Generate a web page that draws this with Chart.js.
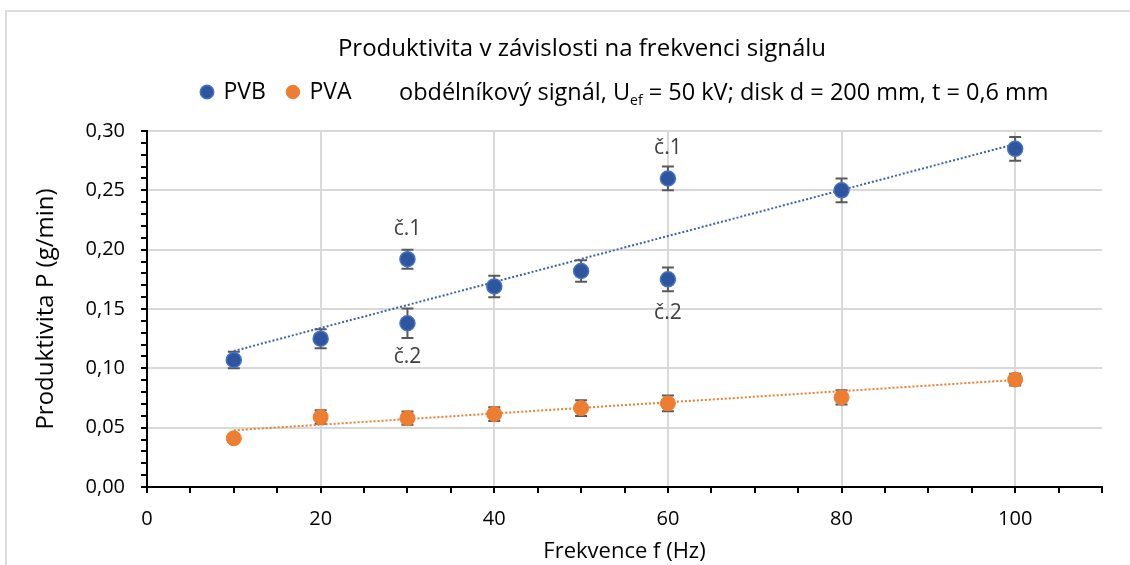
<!DOCTYPE html>
<html>
<head>
<meta charset="utf-8">
<script src="https://cdn.jsdelivr.net/npm/chart.js@4.4.0/dist/chart.umd.min.js"></script>
<style>
  html, body { margin: 0; padding: 0; background: #fff; overflow: hidden; }
  #frame { position: absolute; left: 5px; top: 10px; width: 1200px; height: 700px; border: 2px solid #dcdcdc; }
  #myChart { position: absolute; left: 0; top: 0; }
</style>
</head>
<body>
<div id="frame"></div>
<canvas id="myChart" width="1130" height="565"></canvas>
<script>
// data
var freqPVB = [10, 20, 30, 30, 40, 50, 60, 60, 80, 100];
var prodPVB = [0.107, 0.125, 0.192, 0.138, 0.169, 0.182, 0.260, 0.175, 0.250, 0.285];
var errPVB  = [0.007, 0.008, 0.008, 0.0125, 0.009, 0.009, 0.010, 0.010, 0.010, 0.010];
var notesPVB = ['', '', 'č.1', 'č.2', '', '', 'č.1', 'č.2', '', ''];

var freqPVA = [10, 20, 30, 40, 50, 60, 80, 100];
var prodPVA = [0.041, 0.059, 0.058, 0.0615, 0.0665, 0.0705, 0.0755, 0.0905];
var errPVA  = [0.003, 0.0057, 0.0056, 0.0058, 0.0067, 0.0067, 0.006, 0.005];

// linear trend lines (end points)
var trendX = [10, 100];
var trendPVB = [0.1146, 0.289];
var trendPVA = [0.0478, 0.0902];

var FONT = 'Open Sans';
var blue = '#2f559f';
var orange = '#ed7d31';
var LEGEND_SIZE = 23, LEGEND_PAD = 22;

function pts(xs, ys) {
    return xs.map(function (x, i) { return { x: x, y: ys[i] }; });
}

// error bars, drawn below the markers
var errorBars = {
    id: 'errorBars',
    beforeDatasetsDraw: function (chart) {
        var ctx = chart.ctx, xs = chart.scales.x, ys = chart.scales.y;
        var sets = [[freqPVB, prodPVB, errPVB], [freqPVA, prodPVA, errPVA]];
        ctx.save();
        ctx.strokeStyle = '#595959';
        ctx.lineWidth = 2;
        sets.forEach(function (s) {
            s[0].forEach(function (f, i) {
                var px = xs.getPixelForValue(f);
                var top = ys.getPixelForValue(s[1][i] + s[2][i]);
                var bot = ys.getPixelForValue(s[1][i] - s[2][i]);
                ctx.beginPath();
                ctx.moveTo(px, top); ctx.lineTo(px, bot);
                ctx.moveTo(px - 6, top); ctx.lineTo(px + 6, top);
                ctx.moveTo(px - 6, bot); ctx.lineTo(px + 6, bot);
                ctx.stroke();
            });
        });
        ctx.restore();
    }
};

// č.1 / č.2 labels and the extra legend text
var notes = {
    id: 'notes',
    afterLayout: function (chart) {
        // put the legend row where the original has it
        var lg = chart.legend;
        var h = lg.bottom - lg.top;
        lg.left = 202 - LEGEND_PAD;
        lg.top = 92 - LEGEND_PAD - LEGEND_SIZE / 2;
        lg.bottom = lg.top + h;
        // title is centred a bit right of the canvas middle
        chart.titleBlock.left += 15;
        chart.titleBlock.right += 15;
    },
    afterDraw: function (chart) {
        var ctx = chart.ctx, xs = chart.scales.x, ys = chart.scales.y;
        ctx.save();
        ctx.fillStyle = '#404040';
        ctx.font = '21px "' + FONT + '"';
        ctx.textAlign = 'center';
        ctx.textBaseline = 'middle';
        notesPVB.forEach(function (t, i) {
            if (!t) return;
            var px = xs.getPixelForValue(freqPVB[i]);
            var py = ys.getPixelForValue(prodPVB[i]);
            var dy = t === 'č.1' ? -30 : 34;
            ctx.fillText(t, px, py + dy);
        });

        // "obdélníkový signál, Uef = 50 kV; disk d = 200 mm, t = 0,6 mm"
        ctx.fillStyle = '#000';
        ctx.textAlign = 'left';
        ctx.textBaseline = 'alphabetic';
        var x = 399, y = 100;
        var parts = [['obdélníkový signál, U', 23.5, 0], ['ef', 14, 5], [' = 50 kV; disk d = 200 mm, t = 0,6 mm', 23.5, 0]];
        parts.forEach(function (p) {
            ctx.font = p[1] + 'px "' + FONT + '"';
            ctx.fillText(p[0], x, y + p[2]);
            x += ctx.measureText(p[0]).width;
        });
        ctx.restore();
    }
};

var ctx = document.getElementById('myChart');
var myChart = new Chart(ctx, {
    type: 'scatter',
    data: {
        datasets: [
            {
                label: 'PVB',
                data: pts(freqPVB, prodPVB),
                backgroundColor: blue,
                borderColor: '#4472c4',
                borderWidth: 1.5,
                pointRadius: 7.5,
                pointHoverRadius: 7.5,
                order: 1
            },
            {
                label: 'PVA',
                data: pts(freqPVA, prodPVA),
                backgroundColor: orange,
                borderColor: orange,
                borderWidth: 1,
                pointRadius: 7.5,
                pointHoverRadius: 7.5,
                order: 1
            },
            {
                label: 'trend PVB',
                type: 'line',
                data: pts(trendX, trendPVB),
                borderColor: '#3a62b0',
                borderWidth: 2,
                borderDash: [2, 2],
                pointRadius: 0,
                fill: false,
                order: 2
            },
            {
                label: 'trend PVA',
                type: 'line',
                data: pts(trendX, trendPVA),
                borderColor: orange,
                borderWidth: 2,
                borderDash: [2, 2],
                pointRadius: 0,
                fill: false,
                order: 2
            }
        ]
    },
    options: {
        responsive: false,
        animation: false,
        layout: { padding: { left: 32, right: 28, top: 0, bottom: 0 } },
        plugins: {
            title: {
                display: true,
                text: 'Produktivita v závislosti na frekvenci signálu',
                color: '#000',
                font: { family: FONT, size: 24, weight: 'normal' },
                padding: { top: 35, bottom: 12.2 }
            },
            legend: {
                position: 'top',
                align: 'start',
                labels: {
                    usePointStyle: true,
                    pointStyle: 'circle',
                    boxWidth: 10,
                    boxHeight: 9.5,
                    padding: LEGEND_PAD,
                    color: '#000',
                    font: { family: FONT, size: LEGEND_SIZE },
                    filter: function (item) { return item.text.indexOf('trend') < 0; }
                }
            },
            tooltip: { enabled: false }
        },
        scales: {
            x: {
                type: 'linear',
                min: 0,
                max: 110,
                afterFit: function (s) { s.height = 78; },
                border: { color: '#000', width: 2 },
                grid: {
                    color: function (c) {
                        var v = c.tick.value;
                        return (v > 0 && v <= 100 && v % 20 === 0) ? '#d9d9d9' : 'rgba(0,0,0,0)';
                    },
                    lineWidth: 2,
                    tickColor: '#000',
                    tickLength: 6
                },
                ticks: {
                    stepSize: 5,
                    autoSkip: false,
                    maxRotation: 0,
                    color: '#000',
                    font: { family: FONT, size: 20 },
                    padding: 14,
                    callback: function (v) { return (v % 20 === 0 && v <= 100) ? String(v) : ''; }
                },
                title: {
                    display: true,
                    text: 'Frekvence f (Hz)',
                    color: '#000',
                    font: { family: FONT, size: 22 },
                    padding: { top: 2, bottom: 0 }
                }
            },
            y: {
                type: 'linear',
                min: 0,
                max: 0.30,
                afterFit: function (s) { s.width = 115; },
                border: { color: '#000', width: 2 },
                grid: {
                    color: function (c) {
                        var k = Math.round(c.tick.value * 100);
                        return (k > 0 && k % 5 === 0) ? '#d9d9d9' : 'rgba(0,0,0,0)';
                    },
                    lineWidth: 2,
                    tickColor: '#000',
                    tickLength: 6
                },
                ticks: {
                    stepSize: 0.01,
                    autoSkip: false,
                    color: '#000',
                    font: { family: FONT, size: 20 },
                    padding: 16,
                    callback: function (v) {
                        var k = Math.round(v * 100);
                        return k % 5 === 0 ? v.toFixed(2).replace('.', ',') : '';
                    }
                },
                title: {
                    display: true,
                    text: 'Produktivita P (g/min)',
                    color: '#000',
                    font: { family: FONT, size: 24 },
                    padding: { top: 0, bottom: 0 }
                }
            }
        }
    },
    plugins: [errorBars, notes]
});
</script>
</body>
</html>
